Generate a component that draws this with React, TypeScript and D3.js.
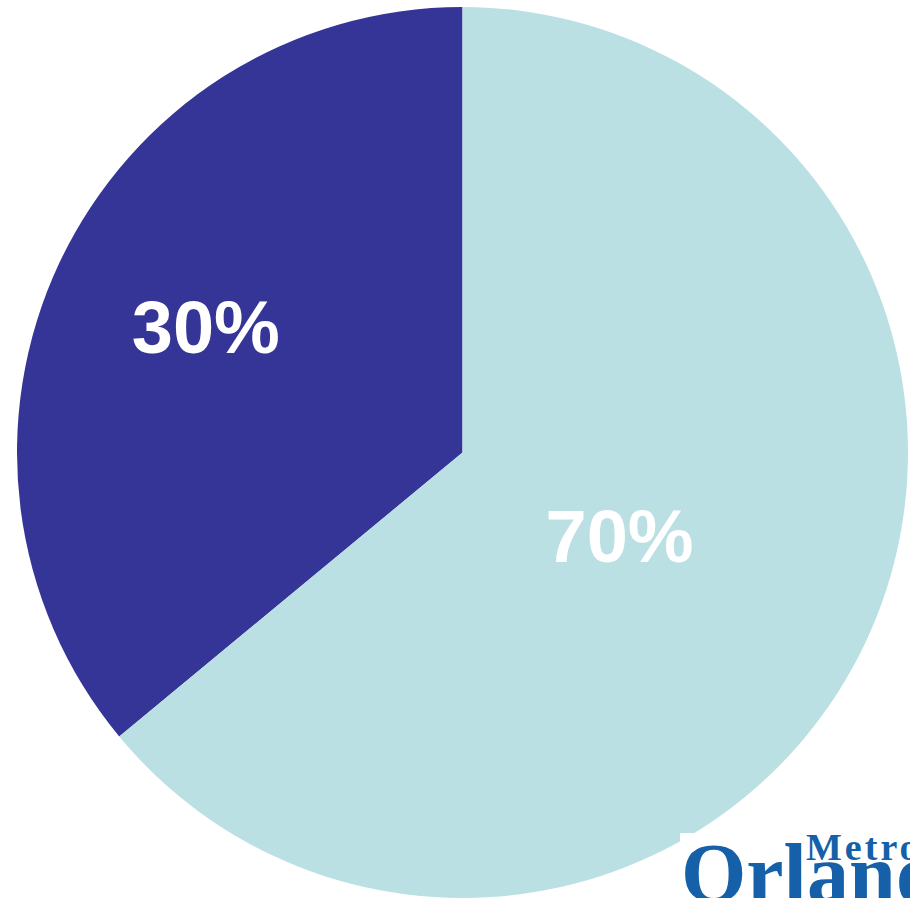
import React from "react";
import * as d3 from "d3";

// slice shares as drawn in the picture, and the labels printed on them
const categories = ["Share A", "Share B"];
const shares = [36, 64];
const labels = ["30%", "70%"];
const colors = ["#353497", "#bae0e3"];

const width = 910;
const height = 898;

export default function App() {
  const cx = 462.5;
  const cy = 452.5;
  const radius = 445.5;

  // first slice runs counter-clockwise from 12 o'clock
  const pie = d3
    .pie<number>()
    .sort(null)
    .startAngle(-2 * Math.PI)
    .endAngle(0)
    .value((d) => d);

  const arcs = pie(shares.slice().reverse()).reverse();

  const arc = d3.arc<d3.PieArcDatum<number>>().innerRadius(0).outerRadius(radius);
  const labelRadius = [287, 178];
  const labelNudge = [
    [3, -4],
    [-4, 7],
  ];

  return (
    <svg
      width={width}
      height={height}
      style={{ position: "absolute", left: 0, top: 0, background: "#fff" }}
    >
      <g transform={`translate(${cx},${cy})`}>
        {arcs.map((a, i) => (
          <path key={categories[i]} d={arc(a) || ""} fill={colors[i]} />
        ))}
        {arcs.map((a, i) => {
          const [lx, ly] = d3
            .arc<d3.PieArcDatum<number>>()
            .innerRadius(labelRadius[i])
            .outerRadius(labelRadius[i])
            .centroid(a);
          return (
            <text
              key={labels[i]}
              x={lx + labelNudge[i][0]}
              y={ly + 27 + labelNudge[i][1]}
              textAnchor="middle"
              fill="#fff"
              fontFamily="Liberation Sans, Arial, sans-serif"
              fontWeight="bold"
              fontSize={74}
            >
              {labels[i]}
            </text>
          );
        })}
      </g>
      {/* logo, cut by the page edge */}
      <rect x={680} y={833} width={230} height={65} fill="#fff" />
      <text
        x={806}
        y={860}
        fill="#1560a8"
        fontFamily="Liberation Serif, Times New Roman, serif"
        fontWeight="bold"
        letterSpacing={3}
        fontSize={38}
      >
        Metro
      </text>
      <text
        x={681}
        y={902}
        fill="#1560a8"
        fontFamily="Liberation Serif, Times New Roman, serif"
        fontWeight="bold"
        fontSize={84}
      >
        Orlando
      </text>
    </svg>
  );
}
